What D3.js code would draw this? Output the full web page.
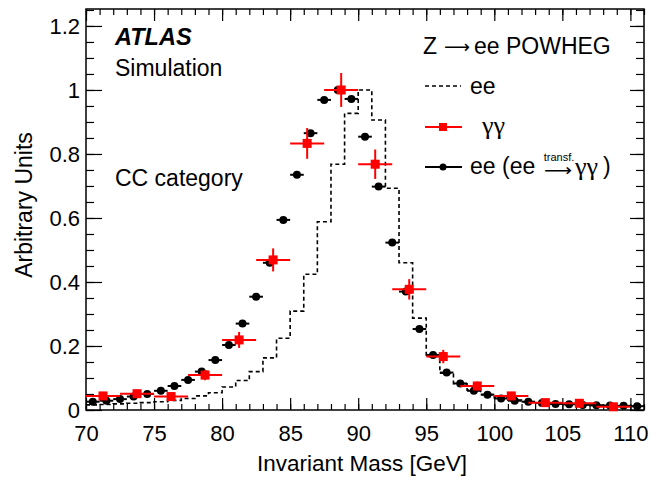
<!DOCTYPE html>
<html>
<head>
<meta charset="utf-8">
<script src="https://cdn.jsdelivr.net/npm/d3@7"></script>
<style>
  body { margin: 0; background: #fff; }
  text { font-family: "Liberation Sans", Arial, sans-serif; }
</style>
</head>
<body>
<div id="graph"></div>
<script>
// chart data
var eeEdges = d3.range(70, 111); // 1 GeV bins, lower edges 70..110
var eeHist = [0.016, 0.017, 0.019, 0.021, 0.023, 0.026, 0.030, 0.036, 0.044, 0.054,
              0.072, 0.092, 0.120, 0.163, 0.224, 0.309, 0.424, 0.588, 0.768, 0.927,
              1.000, 0.906, 0.693, 0.460, 0.287, 0.167, 0.115, 0.082, 0.062, 0.048,
              0.038, 0.031, 0.026, 0.022, 0.019, 0.017, 0.015, 0.014, 0.013, 0.012, 0.011];

var eeTransfCenters = d3.range(70.5, 111, 1);
var eeTransf = [0.026, 0.029, 0.034, 0.042, 0.050, 0.060, 0.075, 0.094, 0.120, 0.156,
                0.203, 0.270, 0.354, 0.460, 0.594, 0.735, 0.865, 0.969, 1.000, 0.972,
                0.854, 0.698, 0.523, 0.370, 0.253, 0.172, 0.117, 0.083, 0.060, 0.048,
                0.036, 0.029, 0.026, 0.022, 0.019, 0.018, 0.016, 0.015, 0.014, 0.013, 0.012];

var ggCenters = d3.range(71.25, 110, 2.5);
var gg    = [0.044, 0.051, 0.042, 0.109, 0.219, 0.469, 0.833, 1.000,
             0.768, 0.377, 0.167, 0.075, 0.044, 0.023, 0.021, 0.010];
var ggErr = [0.010, 0.011, 0.010, 0.016, 0.025, 0.036, 0.048, 0.053,
             0.046, 0.032, 0.021, 0.014, 0.010, 0.008, 0.007, 0.005];

var xTicks = [70, 75, 80, 85, 90, 95, 100, 105, 110];
var xTickLabels = ["70", "75", "80", "85", "90", "95", "100", "105", "110"];
var yTicks = [0, 0.2, 0.4, 0.6, 0.8, 1.0, 1.2];
var yTickLabels = ["0", "0.2", "0.4", "0.6", "0.8", "1", "1.2"];

// setting up the graph
var w = 667, h = 478;
var vis = d3.select("div#graph").append("svg")
    .attr("width", w)
    .attr("height", h);

var pl = 86, pr = 644, pt = 9, pb = 410;
var x = d3.scaleLinear().domain([70, 111]).range([pl, pr]);
var y = d3.scaleLinear().domain([0, 1.253]).range([pb, pt]);

var xMinor = d3.range(70, 112, 1);
var yMinor = d3.range(0, 1.26, 0.05);

function styleAxis(g) {
  g.select(".domain").remove();
  g.selectAll("line").attr("stroke", "#000").attr("stroke-width", 1.2);
  g.selectAll("text").attr("fill", "#000").style("font-size", "22px");
}

// ticks (inside, on all four sides)
vis.append("g").attr("transform", "translate(0," + pb + ")")
   .call(d3.axisBottom(x).tickValues(xMinor).tickSize(-6).tickFormat(""))
   .call(styleAxis);
vis.append("g").attr("transform", "translate(0," + pb + ")")
   .call(d3.axisBottom(x).tickValues(xTicks).tickSize(-12).tickPadding(15)
         .tickFormat(function(d, i) { return xTickLabels[i]; }))
   .call(styleAxis);
vis.append("g").attr("transform", "translate(0," + pt + ")")
   .call(d3.axisTop(x).tickValues(xMinor).tickSize(-6).tickFormat(""))
   .call(styleAxis);
vis.append("g").attr("transform", "translate(0," + pt + ")")
   .call(d3.axisTop(x).tickValues(xTicks).tickSize(-12).tickFormat(""))
   .call(styleAxis);

vis.append("g").attr("transform", "translate(" + pl + ",0)")
   .call(d3.axisLeft(y).tickValues(yMinor).tickSize(-8).tickFormat(""))
   .call(styleAxis);
vis.append("g").attr("transform", "translate(" + pl + ",0)")
   .call(d3.axisLeft(y).tickValues(yTicks).tickSize(-16).tickPadding(6)
         .tickFormat(function(d, i) { return yTickLabels[i]; }))
   .call(styleAxis);
vis.append("g").attr("transform", "translate(" + pr + ",0)")
   .call(d3.axisRight(y).tickValues(yMinor).tickSize(-8).tickFormat(""))
   .call(styleAxis);
vis.append("g").attr("transform", "translate(" + pr + ",0)")
   .call(d3.axisRight(y).tickValues(yTicks).tickSize(-14).tickFormat(""))
   .call(styleAxis);

// frame
vis.append("rect")
   .attr("x", pl).attr("y", pt)
   .attr("width", pr - pl).attr("height", pb - pt)
   .attr("fill", "none").attr("stroke", "#000").attr("stroke-width", 1.5);

// ee dashed histogram
var histPts = eeEdges.map(function(e, i) { return [e, eeHist[i]]; });
histPts.push([111, eeHist[eeHist.length - 1]]);
var step = d3.line()
   .x(function(d) { return x(d[0]); })
   .y(function(d) { return y(d[1]); })
   .curve(d3.curveStepAfter);
vis.append("path")
   .attr("d", step(histPts))
   .attr("fill", "none").attr("stroke", "#000")
   .attr("stroke-width", 1.6).attr("stroke-dasharray", "4,3");

// ee (transformed) black points
var bnode = vis.selectAll("g.bpt")
   .data(eeTransf)
   .enter().append("g")
   .attr("class", "bpt");
bnode.append("line")
   .attr("x1", function(d, i) { return x(eeTransfCenters[i] - 0.5); })
   .attr("x2", function(d, i) { return x(eeTransfCenters[i] + 0.5); })
   .attr("y1", function(d) { return y(d); })
   .attr("y2", function(d) { return y(d); })
   .attr("stroke", "#000").attr("stroke-width", 2);
bnode.append("circle")
   .attr("cx", function(d, i) { return x(eeTransfCenters[i]); })
   .attr("cy", function(d) { return y(d); })
   .attr("r", 4)
   .attr("fill", "#000");

// gamma gamma red points
var red = "#ff0000";
var rnode = vis.selectAll("g.rpt")
   .data(gg)
   .enter().append("g")
   .attr("class", "rpt");
rnode.append("line")
   .attr("x1", function(d, i) { return x(ggCenters[i] - 1.25); })
   .attr("x2", function(d, i) { return x(ggCenters[i] + 1.25); })
   .attr("y1", function(d) { return y(d); })
   .attr("y2", function(d) { return y(d); })
   .attr("stroke", red).attr("stroke-width", 2);
rnode.append("line")
   .attr("x1", function(d, i) { return x(ggCenters[i]); })
   .attr("x2", function(d, i) { return x(ggCenters[i]); })
   .attr("y1", function(d, i) { return y(d - ggErr[i]); })
   .attr("y2", function(d, i) { return y(d + ggErr[i]); })
   .attr("stroke", red).attr("stroke-width", 2);
rnode.append("rect")
   .attr("x", function(d, i) { return x(ggCenters[i]) - 4.5; })
   .attr("y", function(d) { return y(d) - 4.5; })
   .attr("width", 9).attr("height", 9)
   .attr("fill", red);

// labels
vis.append("text").attr("x", 115).attr("y", 45)
   .style("font-size", "23.5px").style("font-weight", "bold").style("font-style", "italic")
   .text("ATLAS");
vis.append("text").attr("x", 115).attr("y", 76)
   .style("font-size", "23px").text("Simulation");
vis.append("text").attr("x", 115).attr("y", 186)
   .style("font-size", "23px").text("CC category");

vis.append("text")
   .attr("x", 362).attr("y", 471)
   .attr("text-anchor", "middle")
   .style("font-size", "22.5px").text("Invariant Mass [GeV]");
vis.append("text")
   .attr("transform", "translate(32,205) rotate(-90)")
   .attr("text-anchor", "middle")
   .style("font-size", "23px").text("Arbitrary Units");

// legend
vis.append("text").attr("x", 423).attr("y", 54).style("font-size", "23px").text("Z");
vis.append("text").attr("x", 444).attr("y", 53)
   .attr("textLength", 26).attr("lengthAdjust", "spacingAndGlyphs")
   .style("font-family", "'DejaVu Sans', sans-serif").style("font-size", "18px").text("\u27f6");
vis.append("text").attr("x", 474).attr("y", 54).style("font-size", "23px").text("ee POWHEG");

vis.append("line").attr("x1", 425).attr("x2", 461).attr("y1", 86).attr("y2", 86)
   .attr("stroke", "#000").attr("stroke-width", 1.6).attr("stroke-dasharray", "4,3");
vis.append("text").attr("x", 470).attr("y", 94)
   .style("font-size", "23px").text("ee");

vis.append("line").attr("x1", 425).attr("x2", 462).attr("y1", 127).attr("y2", 127)
   .attr("stroke", red).attr("stroke-width", 2);
vis.append("rect").attr("x", 439).attr("y", 123).attr("width", 8).attr("height", 8)
   .attr("fill", red);
vis.append("text").attr("x", 482).attr("y", 134)
   .style("font-size", "26px").style("font-family", "'Liberation Serif', serif")
   .text("\u03b3\u03b3");

vis.append("line").attr("x1", 425).attr("x2", 462).attr("y1", 167).attr("y2", 167)
   .attr("stroke", "#000").attr("stroke-width", 2);
vis.append("circle").attr("cx", 443).attr("cy", 167).attr("r", 3.5).attr("fill", "#000");
vis.append("text").attr("x", 470).attr("y", 174)
   .style("font-size", "23px").text("ee (ee");
vis.append("text").attr("x", 559).attr("y", 161).attr("text-anchor", "middle")
   .style("font-size", "11px").text("transf.");
vis.append("text").attr("x", 544).attr("y", 176)
   .attr("textLength", 28).attr("lengthAdjust", "spacingAndGlyphs")
   .style("font-size", "17px").style("font-family", "'DejaVu Sans', sans-serif").text("\u27f6");
vis.append("text").attr("x", 575).attr("y", 175)
   .style("font-size", "26px").style("font-family", "'Liberation Serif', serif")
   .text("\u03b3\u03b3");
vis.append("text").attr("x", 603).attr("y", 174)
   .style("font-size", "23px").text(")");
</script>
</body>
</html>
